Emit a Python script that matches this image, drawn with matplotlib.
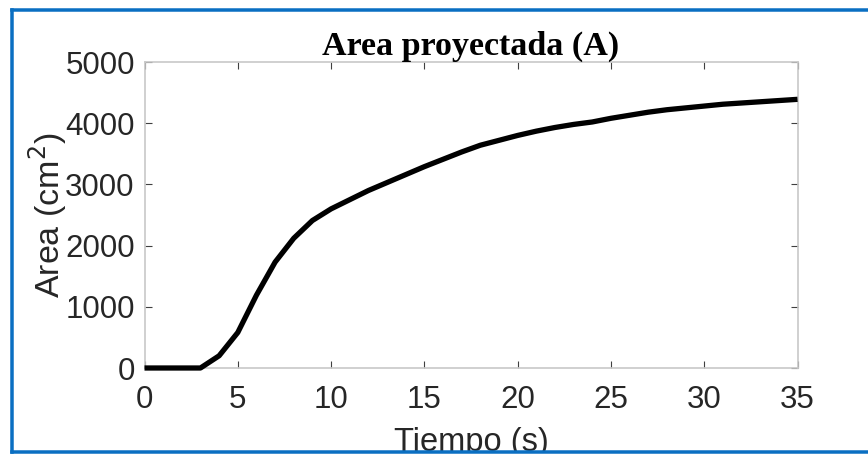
import matplotlib
matplotlib.use("Agg")
import matplotlib.pyplot as plt
from matplotlib.lines import Line2D

# Projected area over time
tiempo = list(range(0, 36))
area = [0, 0, 0, 0, 200, 580, 1190, 1730, 2120, 2410, 2600,
        2750, 2900, 3030, 3160, 3290, 3410, 3530, 3640, 3720, 3800,
        3870, 3930, 3980, 4020, 4080, 4130, 4180, 4220, 4250, 4280,
        4310, 4330, 4350, 4370, 4390]

xticks = [0, 5, 10, 15, 20, 25, 30, 35]
yticks = [0, 1000, 2000, 3000, 4000, 5000]

W, H = 868, 455
fig = plt.figure(figsize=(W / 100, H / 100), dpi=100)

ax_l, ax_r, ax_t, ax_b = 144.5, 797.5, 62.0, 368.0
ax = fig.add_axes([ax_l / W, (H - ax_b) / H, (ax_r - ax_l) / W, (ax_b - ax_t) / H])

ax.plot(tiempo, area, color="black", lw=3.8, solid_joinstyle="round",
        solid_capstyle="butt", clip_on=False, zorder=3)

ax.set_xlim(0, 35)
ax.set_ylim(0, 5000)
ax.set_xticks(xticks)
ax.set_yticks(yticks)

tick_font = {"family": ["Liberation Sans", "DejaVu Sans"], "size": 22.5}
ax.set_xticklabels([str(v) for v in xticks], fontdict=tick_font, color="#262626")
ax.set_yticklabels([str(v) for v in yticks], fontdict=tick_font, color="#262626")

ax.tick_params(direction="in", length=5, width=0.8, color="#404040",
               top=True, right=True)
ax.tick_params(axis="x", pad=12)
ax.tick_params(axis="y", pad=7)
for sp in ax.spines.values():
    sp.set_color("#c8c8c8")
    sp.set_linewidth(1.2)

ax.set_title("Area proyectada (A)", family=["Liberation Serif", "DejaVu Serif"],
             weight="bold", size=24.5, color="black", pad=5)
ax.set_xlabel("Tiempo (s)", family=["Liberation Sans", "DejaVu Sans"],
              size=23.5, color="#262626", labelpad=9)
ax.set_ylabel("Area (cm$^2$)", family=["Liberation Sans", "DejaVu Sans"],
              size=24.5, color="#262626", labelpad=-2.5)

# Blue frame around the figure (left, top and bottom edges)
blue = "#0a6fc2"
frame_lw = 3.5 * 72 / 100
x0 = 11.5 / W
yt = 1 - 9.5 / H
yb = 1 - 451.5 / H
fig.add_artist(Line2D([x0, 1.0], [yt, yt], color=blue, lw=frame_lw,
                      transform=fig.transFigure, zorder=10))
fig.add_artist(Line2D([x0, 1.0], [yb, yb], color=blue, lw=frame_lw,
                      transform=fig.transFigure, zorder=10))
fig.add_artist(Line2D([x0, x0], [yb, yt], color=blue, lw=frame_lw,
                      transform=fig.transFigure, zorder=10))
fig.add_artist(plt.Rectangle((0, 0), 1, 1 - 453 / H, transform=fig.transFigure,
                             facecolor="white", edgecolor="none", zorder=9))

fig.savefig("out.png", dpi=100)
